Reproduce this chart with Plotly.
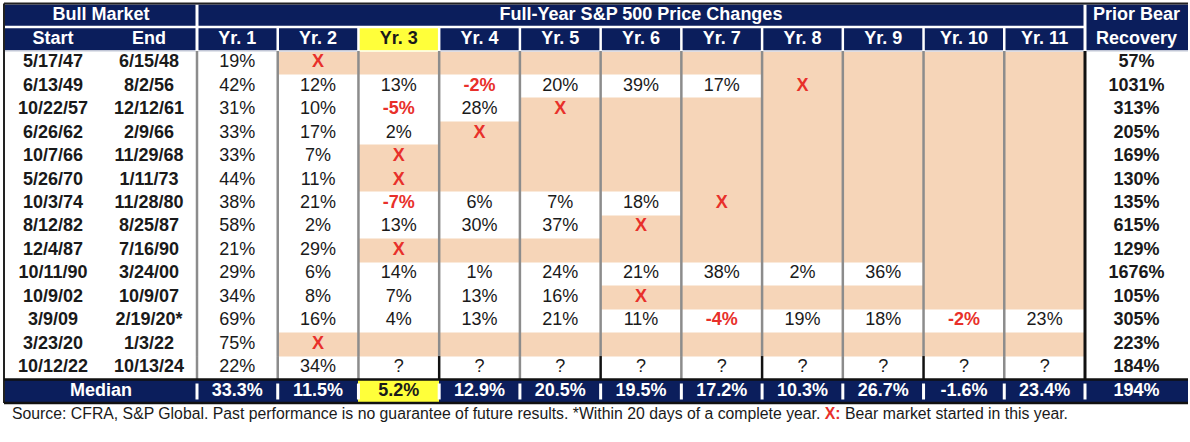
import plotly.graph_objects as go

# ---------------- data ----------------
starts = ["5/17/47", "6/13/49", "10/22/57", "6/26/62", "10/7/66", "5/26/70", "10/3/74",
          "8/12/82", "12/4/87", "10/11/90", "10/9/02", "3/9/09", "3/23/20", "10/12/22"]
ends = ["6/15/48", "8/2/56", "12/12/61", "2/9/66", "11/29/68", "1/11/73", "11/28/80",
        "8/25/87", "7/16/90", "3/24/00", "10/9/07", "2/19/20*", "1/3/22", "10/13/24"]
year_labels = ["Yr. 1", "Yr. 2", "Yr. 3", "Yr. 4", "Yr. 5", "Yr. 6",
               "Yr. 7", "Yr. 8", "Yr. 9", "Yr. 10", "Yr. 11"]
# "X" = bear market started in this year; entries beyond a list's end = no further year
yearly_returns = [
    [19, "X"],
    [42, 12, 13, -2, 20, 39, 17, "X"],
    [31, 10, -5, 28, "X"],
    [33, 17, 2, "X"],
    [33, 7, "X"],
    [44, 11, "X"],
    [38, 21, -7, 6, 7, 18, "X"],
    [58, 2, 13, 30, 37, "X"],
    [21, 29, "X"],
    [29, 6, 14, 1, 24, 21, 38, 2, 36],
    [34, 8, 7, 13, 16, "X"],
    [69, 16, 4, 13, 21, 11, -4, 19, 18, -2, 23],
    [75, "X"],
    [22, 34, "?", "?", "?", "?", "?", "?", "?", "?", "?"],
]
prior_bear_recovery = [57, 1031, 313, 205, 169, 130, 135, 615, 129, 1676, 105, 305, 223, 184]
median_returns = [33.3, 11.5, 5.2, 12.9, 20.5, 19.5, 17.2, 10.3, 26.7, -1.6, 23.4]
median_recovery = 194
highlight_year = "Yr. 3"

title_group = "Bull Market"
title_main = "Full-Year S&P 500 Price Changes"
title_recovery = ["Prior Bear", "Recovery"]
footer = ("Source: CFRA, S&P Global. Past performance is no guarantee of future results. "
          "*Within 20 days of a complete year. <span style='color:#E8302A'><b>X:</b></span> "
          "Bear market started in this year.")

# ---------------- style / layout ----------------
NAVY = "#0B1E5C"
PEACH = "#F6D5B8"
YELLOW = "#FFFF3A"
RED = "#E8302A"
INK = "#1A1A1A"
GRID = "#8C8C8C"
FONT = "Liberation Sans, Arial, sans-serif"
FS = 18

W, H = 1190, 442
n_years = len(year_labels)
n_rows = len(starts)
X0, X_SPLIT, X_YR0, X_PRIOR, X_RIGHT = 5, 101, 197, 1085, 1188
yr_w = (X_PRIOR - X_YR0) / n_years
col_edges = [X0, X_SPLIT] + [X_YR0 + yr_w * i for i in range(n_years + 1)] + [X_RIGHT]
col_centers = [(a + b) / 2 for a, b in zip(col_edges[:-1], col_edges[1:])]

Y_TOP, Y_HDR_MID, Y_BODY, Y_BODY_END, Y_BOTTOM = 4.5, 27, 51, 379.5, 403
row_h = (Y_BODY_END - Y_BODY) / n_rows
row_edges = [Y_TOP, Y_HDR_MID] + [Y_BODY + row_h * i for i in range(n_rows + 1)] + [Y_BOTTOM]
row_centers = [(a + b) / 2 for a, b in zip(row_edges[:-1], row_edges[1:])]

hl = year_labels.index(highlight_year) + 2  # column index of highlighted year

# ---------------- cell fills (0 white, 1 peach, 2 navy, 3 yellow) ----------------
ncols = len(col_edges) - 1
z = []
z.append([2] * ncols)
r = [2] * ncols
r[hl] = 3
z.append(r)
padded = []
for vals in yearly_returns:
    p = list(vals) + [None] * (n_years - len(vals))
    padded.append(p)
    row = [0, 0] + [1 if (v is None or v == "X") else 0 for v in p] + [0]
    z.append(row)
r = [2] * ncols
r[hl] = 3
z.append(r)

colorscale = [[0, "#FFFFFF"], [0.166, "#FFFFFF"], [0.166, PEACH], [0.5, PEACH],
              [0.5, NAVY], [0.833, NAVY], [0.833, YELLOW], [1, YELLOW]]

fig = go.Figure()
fig.add_trace(go.Heatmap(x=col_edges, y=row_edges, z=z, zmin=0, zmax=3,
                         colorscale=colorscale, showscale=False, hoverinfo="skip"))

# ---------------- texts ----------------
texts = []  # (x, y, text, color, bold)
cx_group = (col_edges[0] + col_edges[2]) / 2
cx_main = (col_edges[2] + col_edges[-2]) / 2
texts.append((cx_group, row_centers[0], title_group, "white", True))
texts.append((cx_main, row_centers[0], title_main, "white", True))
texts.append((col_centers[-1], row_centers[0], title_recovery[0], "white", True))
hdr2 = ["Start", "End"] + year_labels + [title_recovery[1]]
for c, t in enumerate(hdr2):
    texts.append((col_centers[c], row_centers[1], t, INK if c == hl else "white", True))

for i in range(n_rows):
    y = row_centers[i + 2]
    texts.append((col_centers[0], y, starts[i], INK, True))
    texts.append((col_centers[1], y, ends[i], INK, True))
    for j, v in enumerate(padded[i]):
        if v is None:
            continue
        x = col_centers[j + 2]
        if v == "X":
            texts.append((x, y, "X", RED, True))
        elif v == "?":
            texts.append((x, y, "?", INK, False))
        elif v < 0:
            texts.append((x, y, f"{v}%", RED, True))
        else:
            texts.append((x, y, f"{v}%", INK, False))
    texts.append((col_centers[-1], y, f"{prior_bear_recovery[i]}%", INK, True))

ym = row_centers[-1]
texts.append((cx_group, ym, "Median", "white", True))
for j, v in enumerate(median_returns):
    c = j + 2
    texts.append((col_centers[c], ym, f"{v:.1f}%", INK if c == hl else "white", True))
texts.append((col_centers[-1], ym, f"{median_recovery}%", "white", True))

groups = {}
for x, y, t, color, bold in texts:
    groups.setdefault((color, bold), []).append((x, y, t))
for (color, bold), items in groups.items():
    fig.add_trace(go.Scatter(
        x=[a[0] for a in items], y=[a[1] for a in items], text=[a[2] for a in items],
        mode="text", textposition="middle center", hoverinfo="skip", showlegend=False,
        textfont=dict(family=FONT, size=FS, color=color, weight="bold" if bold else "normal")))

# ---------------- rules ----------------
shapes = []


def line(x0, y0, x1, y1, color, width):
    shapes.append(dict(type="line", xref="x", yref="y", x0=x0, y0=y0, x1=x1, y1=y1,
                       line=dict(color=color, width=width), layer="above"))


# header white separators
line(col_edges[0], Y_HDR_MID, col_edges[-2], Y_HDR_MID, "white", 2.5)
line(col_edges[0], Y_BODY, col_edges[-1], Y_BODY, "white", 1.5)
line(col_edges[2], Y_TOP, col_edges[2], Y_BODY, "white", 3)
line(col_edges[-2], Y_TOP, col_edges[-2], Y_BODY, "white", 3)
for k in range(3, len(col_edges) - 2):
    line(col_edges[k], Y_HDR_MID, col_edges[k], Y_BODY, "white", 2.5)

# body grid
last_top = row_edges[-3]
for k in range(2, len(col_edges) - 2):
    line(col_edges[k], Y_BODY, col_edges[k], last_top, GRID, 2.5)
    black_last = (k - 2) in (3, 5, 7, 9)
    line(col_edges[k], last_top, col_edges[k], Y_BODY_END,
         "#111111" if black_last else GRID, 2.5)
line(col_edges[-2], Y_BODY, col_edges[-2], Y_BODY_END, "#111111", 3)

# median white bars
for k in range(2, len(col_edges) - 1):
    line(col_edges[k], Y_BODY_END + 4, col_edges[k], Y_BOTTOM - 3.5, "white", 3)

# outer borders
line(col_edges[0] - 1, Y_TOP - 1, col_edges[-1], Y_TOP - 1, "#222222", 2)
line(col_edges[0] - 1, Y_TOP - 1, col_edges[0] - 1, Y_BOTTOM, "#222222", 2)
line(col_edges[0] - 1, Y_BODY_END, col_edges[-1], Y_BODY_END, "#111111", 2.5)
line(col_edges[0] - 1, Y_BOTTOM, col_edges[-1], Y_BOTTOM, "#111111", 2.5)

fig.update_layout(
    width=W, height=H, margin=dict(l=0, r=0, t=0, b=0),
    paper_bgcolor="white", plot_bgcolor="white", showlegend=False,
    xaxis=dict(range=[0, W], visible=False, fixedrange=True),
    yaxis=dict(range=[H, 0], visible=False, fixedrange=True),
    shapes=shapes,
    annotations=[dict(x=col_edges[0] + 5, y=Y_BOTTOM + 10, xref="x", yref="y",
                      text=footer, showarrow=False, xanchor="left", yanchor="middle",
                      font=dict(family=FONT, size=15.8, color=INK))],
)

fig.write_html("out.html", config={"displayModeBar": False},
               post_script="document.body.style.margin='0px';")
